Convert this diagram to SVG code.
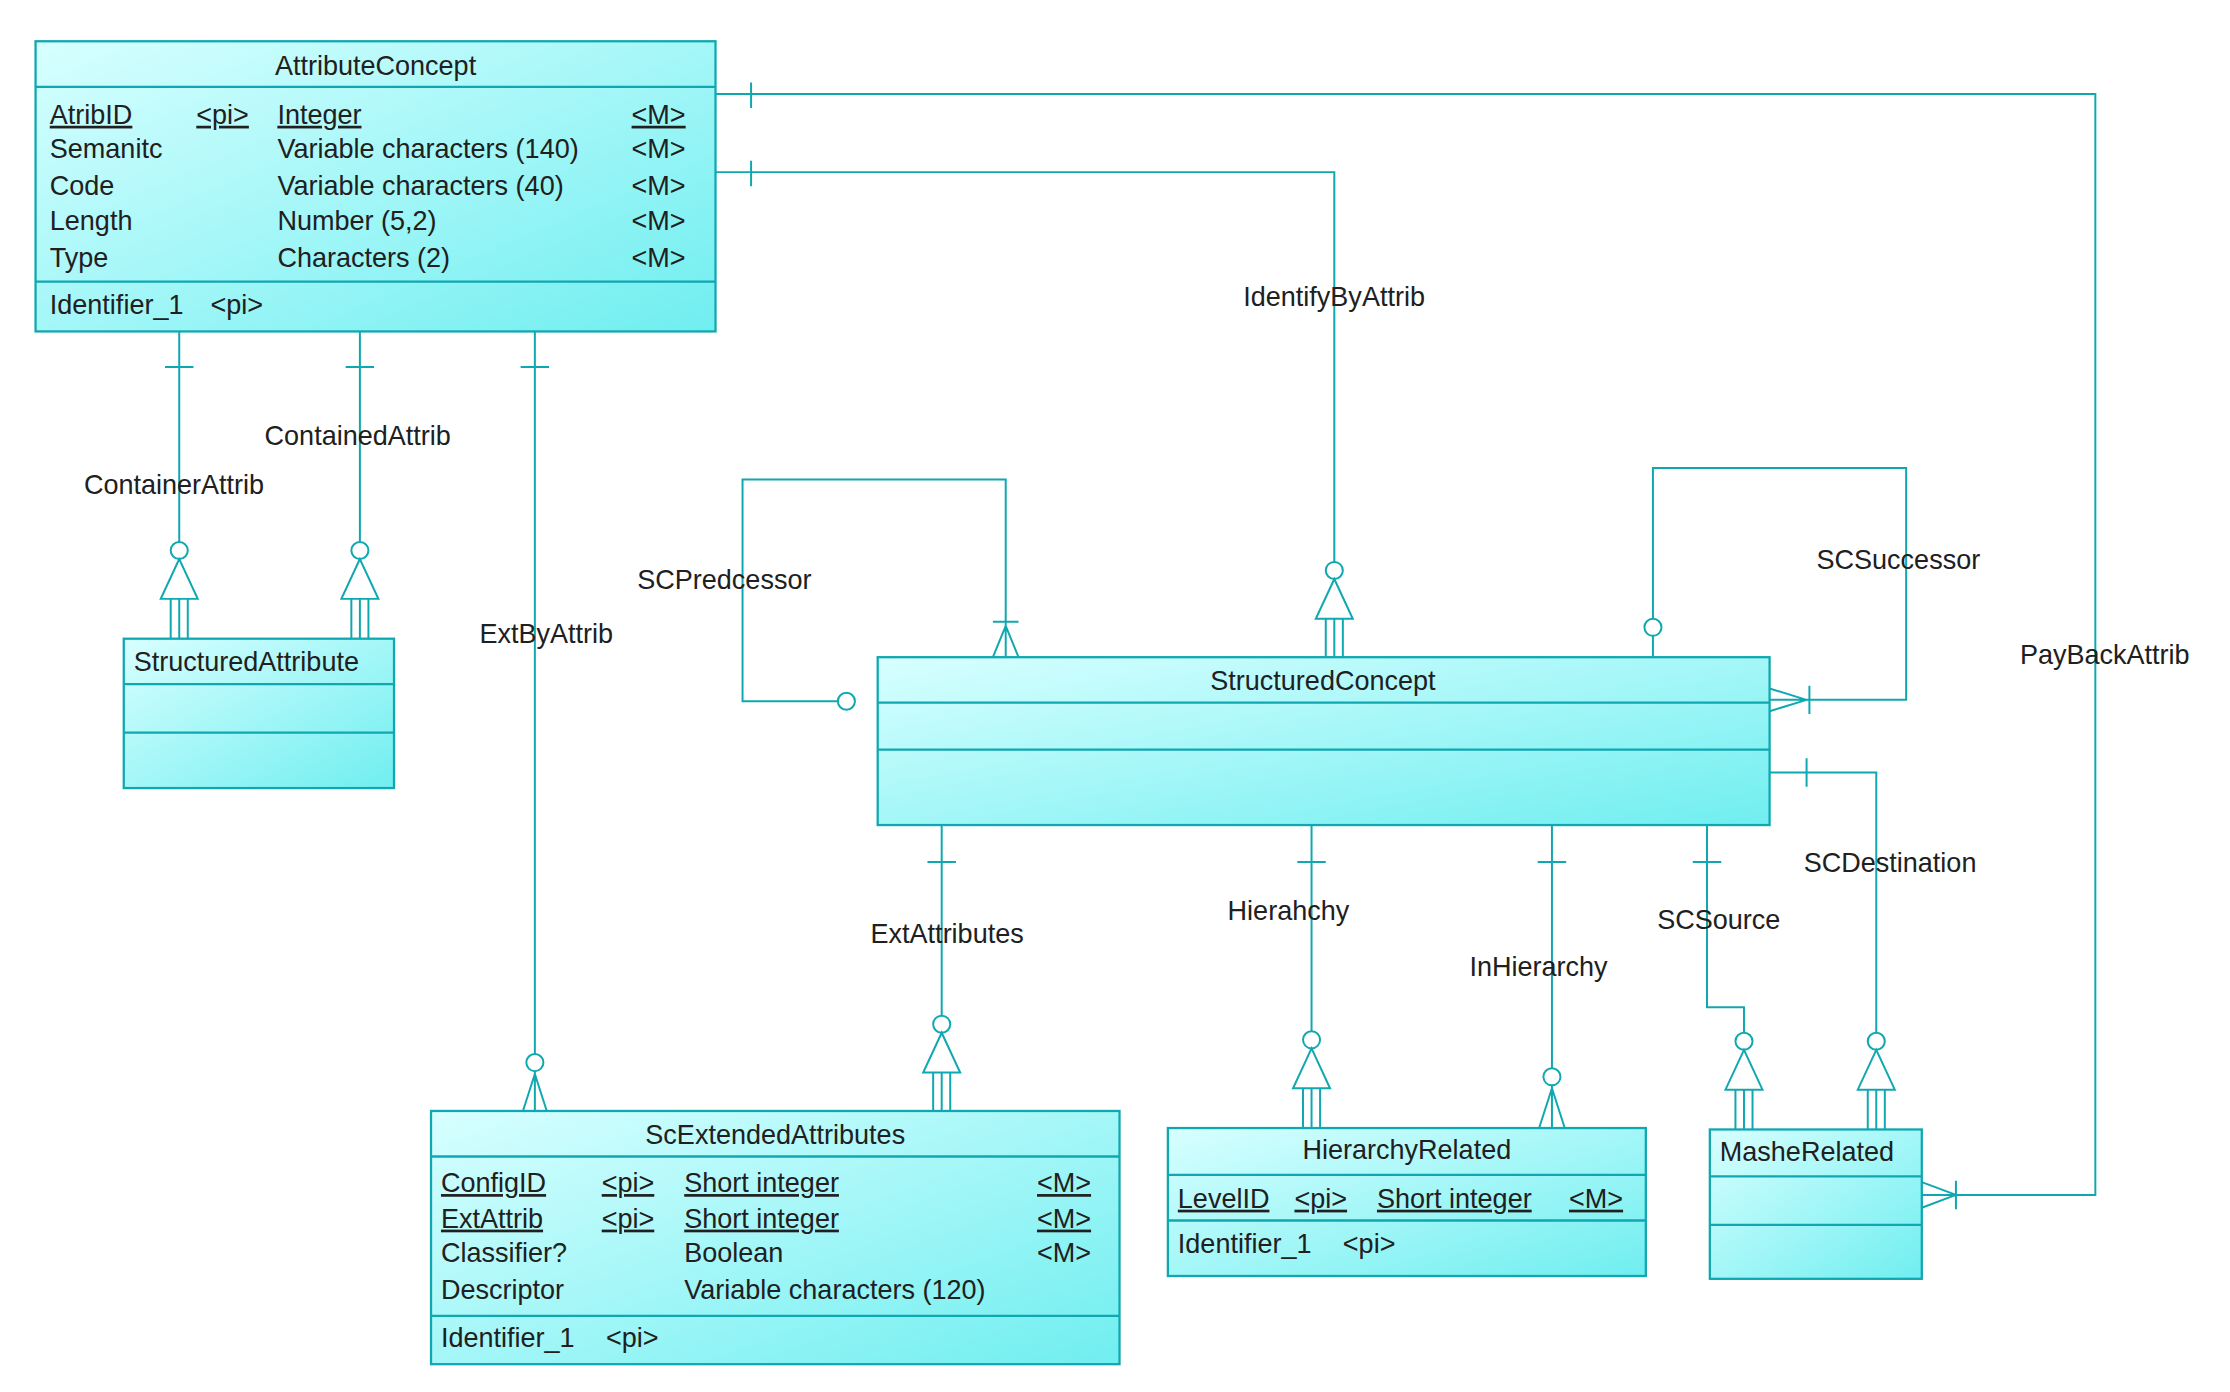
<svg xmlns="http://www.w3.org/2000/svg" width="2230" height="1392" viewBox="0 0 2230 1392">
<style>
.ent{fill:url(#g);stroke:#10a8b0;stroke-width:1.6}
.sep{stroke:#10a8b0;stroke-width:1.6}
.ln{fill:none;stroke:#10a8b0;stroke-width:1.4}
text{font-family:"Liberation Sans",Arial,sans-serif;font-size:19px;fill:#202020}
.c{text-anchor:middle}
.u{text-decoration:underline}
</style>
<defs>
<linearGradient id="g" x1="0" y1="0" x2="1" y2="1">
<stop offset="0" stop-color="#d8ffff"/><stop offset="1" stop-color="#70eef0"/>
</linearGradient>
<g id="inh" fill="#fff" stroke="#10a8b0" stroke-width="1.4">
<circle cx="0" cy="0" r="6"/>
<path d="M0,6 L-13,34 L13,34 Z"/>
<path d="M-6,34 V62 M0,34 V62 M6,34 V62" fill="none"/>
</g>
<g id="crow" fill="none" stroke="#10a8b0" stroke-width="1.4">
<circle cx="0" cy="0" r="6" fill="#fff"/>
<path d="M0,6 V36 M0,8 L-9,36 M0,8 L9,36"/>
</g>
</defs>
<rect width="2230" height="1392" fill="#fff"/>
<g transform="scale(1.4225)">
<g id="connectors" class="ln">
<path d="M503,66 H1473 V840 H1351 M528,58 V76 M1375,840 L1351,831 M1375,840 L1351,849 M1375,830 V850"/>
<path d="M503,121 H938 V395 M528,113 V131"/>
<path d="M126,233 V381 M116,258 H136"/>
<path d="M253,233 V381 M243,258 H263"/>
<path d="M376,233 V741 M366,258 H386"/>
<path d="M589,493 H522 V337 H707 V462 M698,437 H716 M707,440 L698,462 M707,440 L716,462"/>
<circle cx="595" cy="493" r="6" fill="#fff"/>
<path d="M1162,462 V447 M1162,435 V329 H1340 V492 H1244 M1272,482 V502 M1270,492 L1244,484 M1270,492 L1244,500"/>
<circle cx="1162" cy="441" r="6" fill="#fff"/>
<path d="M1244,543 H1319 V726 M1270,533 V553"/>
<path d="M1200,580 V708 H1226 V726 M1190,606 H1210"/>
<path d="M662,580 V714 M652,606 H672"/>
<path d="M922,580 V725 M912,606 H932"/>
<path d="M1091,580 V751 M1081,606 H1101"/>
<use href="#inh" x="938" y="401"/>
<use href="#inh" x="126" y="387"/>
<use href="#inh" x="253" y="387"/>
<use href="#crow" x="376" y="747"/>
<use href="#inh" x="1319" y="732"/>
<use href="#inh" x="1226" y="732"/>
<use href="#inh" x="662" y="720"/>
<use href="#inh" x="922" y="731"/>
<use href="#crow" x="1091" y="757"/>
</g>
<g id="labels">
<text x="1420" y="467">PayBackAttrib</text>
<text x="874" y="215">IdentifyByAttrib</text>
<text x="59" y="347">ContainerAttrib</text>
<text x="186" y="313">ContainedAttrib</text>
<text x="337" y="452">ExtByAttrib</text>
<text x="448" y="414">SCPredcessor</text>
<text x="1277" y="400">SCSuccessor</text>
<text x="1268" y="613">SCDestination</text>
<text x="1165" y="653">SCSource</text>
<text x="612" y="663">ExtAttributes</text>
<text x="863" y="647">Hierahchy</text>
<text x="1033" y="686">InHierarchy</text>
</g>
<g id="AttributeConcept">
<rect class="ent" x="25" y="29" width="478" height="204"/>
<path class="sep" d="M25,61 H503 M25,198 H503"/>
<text class="c" x="264" y="53">AttributeConcept</text>
<text class="u" x="35" y="87">AtribID</text><text class="u" x="138" y="87">&lt;pi&gt;</text><text class="u" x="195" y="87">Integer</text><text class="u" x="444" y="87">&lt;M&gt;</text>
<text x="35" y="111">Semanitc</text><text x="195" y="111">Variable characters (140)</text><text x="444" y="111">&lt;M&gt;</text>
<text x="35" y="137">Code</text><text x="195" y="137">Variable characters (40)</text><text x="444" y="137">&lt;M&gt;</text>
<text x="35" y="162">Length</text><text x="195" y="162">Number (5,2)</text><text x="444" y="162">&lt;M&gt;</text>
<text x="35" y="188">Type</text><text x="195" y="188">Characters (2)</text><text x="444" y="188">&lt;M&gt;</text>
<text x="35" y="221">Identifier_1</text><text x="148" y="221">&lt;pi&gt;</text>
</g>
<g id="StructuredAttribute">
<rect class="ent" x="87" y="449" width="190" height="105"/>
<path class="sep" d="M87,481 H277 M87,515 H277"/>
<text x="94" y="472">StructuredAttribute</text>
</g>
<g id="StructuredConcept">
<rect class="ent" x="617" y="462" width="627" height="118"/>
<path class="sep" d="M617,494 H1244 M617,527 H1244"/>
<text class="c" x="930" y="485">StructuredConcept</text>
</g>
<g id="ScExtendedAttributes">
<rect class="ent" x="303" y="781" width="484" height="178"/>
<path class="sep" d="M303,813 H787 M303,925 H787"/>
<text class="c" x="545" y="804">ScExtendedAttributes</text>
<text class="u" x="310" y="838">ConfigID</text><text class="u" x="423" y="838">&lt;pi&gt;</text><text class="u" x="481" y="838">Short integer</text><text class="u" x="729" y="838">&lt;M&gt;</text>
<text class="u" x="310" y="863">ExtAttrib</text><text class="u" x="423" y="863">&lt;pi&gt;</text><text class="u" x="481" y="863">Short integer</text><text class="u" x="729" y="863">&lt;M&gt;</text>
<text x="310" y="887">Classifier?</text><text x="481" y="887">Boolean</text><text x="729" y="887">&lt;M&gt;</text>
<text x="310" y="913">Descriptor</text><text x="481" y="913">Variable characters (120)</text>
<text x="310" y="947">Identifier_1</text><text x="426" y="947">&lt;pi&gt;</text>
</g>
<g id="HierarchyRelated">
<rect class="ent" x="821" y="793" width="336" height="104"/>
<path class="sep" d="M821,826 H1157 M821,858 H1157"/>
<text class="c" x="989" y="815">HierarchyRelated</text>
<text class="u" x="828" y="849">LevelID</text><text class="u" x="910" y="849">&lt;pi&gt;</text><text class="u" x="968" y="849">Short integer</text><text class="u" x="1103" y="849">&lt;M&gt;</text>
<text x="828" y="881">Identifier_1</text><text x="944" y="881">&lt;pi&gt;</text>
</g>
<g id="MasheRelated">
<rect class="ent" x="1202" y="794" width="149" height="105"/>
<path class="sep" d="M1202,827 H1351 M1202,861 H1351"/>
<text x="1209" y="816">MasheRelated</text>
</g>
</g>
</svg>
